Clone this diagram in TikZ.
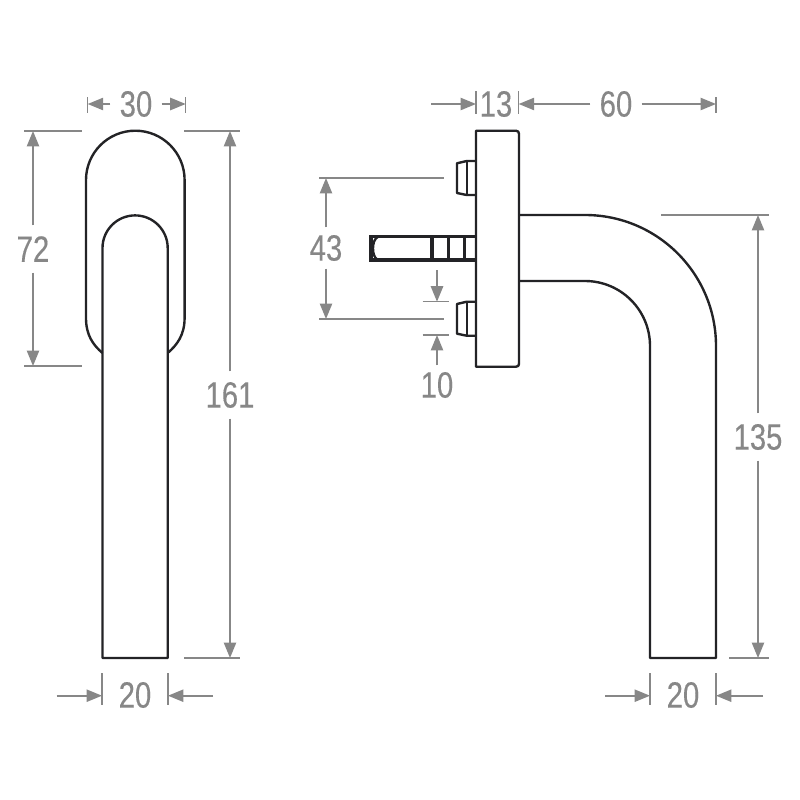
\documentclass[tikz,border=0pt]{standalone}
\usepackage{fontspec}
\setmainfont[FakeStretch=0.8,FakeBold=0.3]{Liberation Sans}
\usepackage{xcolor}
\usetikzlibrary{arrows.meta}
\definecolor{traco}{RGB}{35,35,38}
\definecolor{cotagem}{RGB}{135,135,135}
\tikzset{
  peca/.style={draw=traco,line width=0.68pt,line join=round},
  grosso/.style={draw=traco,line width=1pt},
  aux/.style={draw=cotagem,line width=0.45pt},
  cota/.style={draw=cotagem,line width=0.45pt,-{Triangle[length=4.4pt,width=3.5pt]}},
  rotulo/.style={text=cotagem,font=\fontsize{10.4pt}{12pt}\selectfont,inner sep=0pt},
  rotuloV/.style={rotulo,minimum height=0.46cm},
  rotuloH/.style={rotulo,minimum width=0.50cm}
}

\begin{document}
\begin{tikzpicture}[x=0.01cm,y=-0.01cm]
  \useasboundingbox (0,0) rectangle (800,800);

  % vista frontal
  \draw[peca] (102.5,353) .. controls (93,345) and (86,335) .. (86,318) -- (86,180)
      arc[start angle=180,end angle=360,radius=49.3] -- (184.6,318)
      .. controls (184.6,335) and (177,345) .. (167.7,353);
  \draw[peca] (102.5,658) -- (102.5,248) arc[start angle=180,end angle=360,radius=32.6]
      -- (167.7,658) -- cycle;

  % vista lateral
  \draw[peca] (476,130.7) -- (516,130.7) .. controls (518,130.7) and (519,132) .. (519,134)
      -- (519,363.7) .. controls (519,365.7) and (518,366.7) .. (516,366.7) -- (476,366.7) -- cycle;
  \draw[peca] (519,215) -- (585,215) arc[start angle=270,end angle=360,radius=131]
      -- (716,658) -- (650,658) -- (650,346) arc[start angle=360,end angle=270,radius=65] -- (519,281);
  \foreach \y in {0,140.7} {
    \draw[peca] (476,161+\y) -- (466.7,161+\y) -- (457,163.3+\y) -- (457,193+\y) -- (466.7,195+\y) -- (476,195+\y);
    \draw[peca] (466.7,161+\y) -- (466.7,195+\y);
  }
  \draw[grosso] (476,236.7) -- (371,236.7) -- (371,260) -- (476,260);
  \draw[peca] (378,236.7) .. controls (374,239) and (373,244) .. (373,248.3) .. controls (373,253) and (374,258) .. (378,260);
  \foreach \x in {432,448.7,464.7}
    \draw[grosso] (\x,236.7) -- (\x,260);

  % linhas auxiliares
  \draw[aux] (24,131) -- (81.7,131);
  \draw[aux] (24,366) -- (81.7,366);
  \draw[aux] (184,131) -- (240,131);
  \draw[aux] (184,658) -- (240,658);
  \draw[aux] (87.7,97) -- (87.7,113);
  \draw[aux] (185.7,97) -- (185.7,113);
  \draw[aux] (102,673) -- (102,705);
  \draw[aux] (168,673) -- (168,705);
  \draw[aux] (319,178) -- (444,178);
  \draw[aux] (319,319) -- (444,319);
  \draw[aux] (422.7,301.7) -- (449,301.7);
  \draw[aux] (422.7,335) -- (449,335);
  \draw[aux] (476,91) -- (476,114);
  \draw[aux] (518.7,91) -- (518.7,114);
  \draw[aux] (716,97) -- (716,113);
  \draw[aux] (661,215) -- (769,215);
  \draw[aux] (729,658) -- (769,658);
  \draw[aux] (650,673) -- (650,705);
  \draw[aux] (716,673) -- (716,705);

  % rotulos
  \node[rotuloH] (c30) at (136,104) {30};
  \node[rotuloV] (c72) at (33,249) {72};
  \node[rotuloV] (c161) at (230,395) {161};
  \node[rotulo] (c20a) at (135,695) {20};
  \node[rotulo] (c13) at (496,104) {13};
  \node[rotuloH] (c60) at (616,104) {60};
  \node[rotuloV,minimum height=0.40cm] (c43) at (326,248) {43};
  \node[rotulo,minimum height=0.38cm] (c10) at (437,385) {10};
  \node[rotuloV] (c135) at (758,437) {135};
  \node[rotulo] (c20b) at (683,695) {20};

  % cotas
  \draw[cota] (c30.west) -- (87.7,104);
  \draw[cota] (c30.east) -- (185.7,104);
  \draw[cota] (c72.north) -- (33,131);
  \draw[cota] (c72.south) -- (33,366);
  \draw[cota] (c161.north) -- (230,131);
  \draw[cota] (c161.south) -- (230,658);
  \draw[cota] (56.7,695.7) -- (102,695.7);
  \draw[cota] (213,695.7) -- (168,695.7);
  \draw[cota] (431,104) -- (476,104);
  \draw[cota] (c60.west) -- (518.7,104);
  \draw[cota] (c60.east) -- (716,104);
  \draw[cota] (c43.north) -- (326,178);
  \draw[cota] (c43.south) -- (326,319);
  \draw[cota] (437,270) -- (437,301.7);
  \draw[cota] (c10.north) -- (437,335);
  \draw[cota] (c135.north) -- (758,215);
  \draw[cota] (c135.south) -- (758,658);
  \draw[cota] (605,695.7) -- (650,695.7);
  \draw[cota] (763,695.7) -- (716,695.7);
\end{tikzpicture}
\end{document}
